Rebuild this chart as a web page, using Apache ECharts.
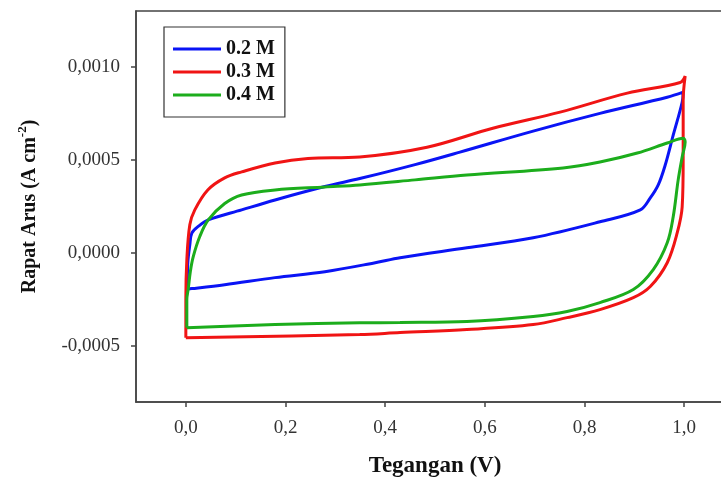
<!DOCTYPE html>
<html>
<head>
<meta charset="utf-8">
<script src="https://cdn.jsdelivr.net/npm/echarts@6/dist/echarts.min.js"></script>
<style>html,body{margin:0;padding:0;background:#fff}#c{width:721px;height:479px}</style>
</head>
<body>
<div id="c"></div>
<script>
// Data (voltage in V, current density in A cm^-2)
var seriesNames = ['0.2 M', '0.3 M', '0.4 M'];
var xTicks = [0, 0.2, 0.4, 0.6, 0.8, 1.0];
var yTicks = [-0.0005, 0, 0.0005, 0.0010];

var v02 = [0.003,0.004,0.008,0.012,0.025,0.045,0.112,0.179,0.279,0.349,0.460,0.550,0.697,0.831,0.966,0.998,
           0.996,0.978,0.962,0.948,0.932,0.912,0.831,0.697,0.564,0.430,0.380,0.279,0.179,0.078,0.012,0.003];
var i02 = [-0.000193,-0.000052,0.000044,0.000107,0.000143,0.000178,0.000232,0.000285,0.000357,0.000400,0.000475,0.000542,0.000655,0.000750,0.000837,0.000864,
           0.000810,0.000633,0.000473,0.000366,0.000296,0.000232,0.000168,0.000082,0.000028,-0.000025,-0.000052,-0.000100,-0.000132,-0.000170,-0.000191,-0.000193];

var v03 = [0,0,0.002,0.008,0.018,0.044,0.078,0.112,0.179,0.245,0.349,0.484,0.616,0.751,0.886,0.992,1.002,
           0.998,0.998,0.996,0.986,0.966,0.932,0.898,0.831,0.765,0.697,0.564,0.430,0.349,0];
var i03 = [-0.000455,-0.000250,-0.000036,0.000152,0.000232,0.000339,0.000404,0.000436,0.000484,0.000508,0.000516,0.000568,0.000670,0.000757,0.000859,0.000916,0.000950,
           0.000821,0.000500,0.000248,0.000108,-0.000052,-0.000180,-0.000240,-0.000304,-0.000347,-0.000384,-0.000411,-0.000427,-0.000438,-0.000455];

var v04 = [0.002,0.002,0.005,0.009,0.015,0.028,0.045,0.078,0.112,0.179,0.279,0.349,0.460,0.564,0.757,0.831,0.906,0.966,0.998,1.002,
           0.996,0.988,0.978,0.966,0.938,0.898,0.831,0.765,0.697,0.564,0.430,0.349,0.179,0.002];
var i04 = [-0.000401,-0.000250,-0.000190,-0.000100,-0.000018,0.000089,0.000178,0.000266,0.000312,0.000339,0.000355,0.000366,0.000393,0.000419,0.000457,0.000489,0.000537,0.000591,0.000617,0.000596,
           0.000516,0.000393,0.000195,0.000055,-0.000089,-0.000196,-0.000266,-0.000314,-0.000341,-0.000368,-0.000373,-0.000375,-0.000384,-0.000401];

function pairs(xs, ys) { return xs.map(function (x, k) { return [x, ys[k]]; }); }

var colors = ['#0a14f5', '#f01414', '#1cad1c'];
var dataSets = [pairs(v02, i02), pairs(v03, i03), pairs(v04, i04)];

var chart = echarts.init(document.getElementById('c'), null, {renderer: 'canvas'});
var serif = 'Liberation Serif';
chart.setOption({
  backgroundColor: '#fff',
  animation: false,
  grid: {left: 136, top: 11, width: 598, height: 391, outerBoundsMode: 'none', containLabel: false,
         show: true, borderColor: '#444', borderWidth: 1.5, backgroundColor: 'transparent'},
  legend: {
    orient: 'vertical', left: 164, top: 27,
    padding: [12, 10, 12, 9],
    itemGap: 3, itemWidth: 48, itemHeight: 3, icon: 'rect',
    borderColor: '#333', borderWidth: 1.2,
    textStyle: {fontFamily: serif, fontWeight: 'bold', fontSize: 20, color: '#111', lineHeight: 20},
    data: seriesNames
  },
  xAxis: {
    type: 'value', min: -0.1, max: 1.1,
    name: 'Tegangan (V)', nameLocation: 'middle', nameGap: 53,
    nameTextStyle: {fontFamily: serif, fontWeight: 'bold', fontSize: 23, color: '#111'},
    axisLine: {onZero: false, lineStyle: {color: '#444', width: 1.5}},
    axisTick: {show: true, inside: false, length: 5, lineStyle: {color: '#444', width: 1.5}, customValues: xTicks},
    axisLabel: {customValues: xTicks, margin: 17, fontFamily: serif, fontSize: 19, color: '#333',
      formatter: function (v) { return v.toFixed(1).replace('.', ','); }},
    splitLine: {show: false}
  },
  yAxis: {
    type: 'value', min: -0.0008, max: 0.0013,
    name: '{b|Rapat Arus (A cm}{s|-2}{b|)}', nameLocation: 'middle', nameGap: 96, nameRotate: 90,
    nameTextStyle: {
      fontFamily: serif, fontWeight: 'bold', fontSize: 20, color: '#111',
      rich: {
        b: {fontFamily: serif, fontWeight: 'bold', fontSize: 20, color: '#111', lineHeight: 24, verticalAlign: 'bottom'},
        s: {fontFamily: serif, fontWeight: 'bold', fontSize: 13, color: '#111', lineHeight: 24, verticalAlign: 'top'}
      }
    },
    axisLine: {show: true, onZero: false, lineStyle: {color: '#444', width: 1.5}},
    axisTick: {show: true, inside: false, length: 5, lineStyle: {color: '#444', width: 1.5}, customValues: yTicks},
    axisLabel: {customValues: yTicks, margin: 16, fontFamily: serif, fontSize: 19, color: '#333',
      formatter: function (v) { return v.toFixed(4).replace('.', ','); }},
    splitLine: {show: false}
  },
  series: seriesNames.map(function (n, k) {
    return {
      name: n, type: 'line', data: dataSets[k], symbol: 'none', smooth: 0.35,
      color: colors[k], itemStyle: {color: colors[k]}, lineStyle: {color: colors[k], width: 3}, clip: true
    };
  })
});
</script>
</body>
</html>
